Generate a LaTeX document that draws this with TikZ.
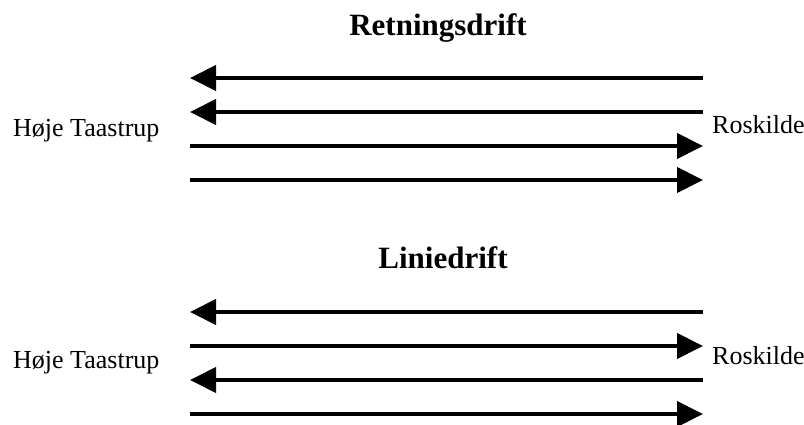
\documentclass[tikz,border=0pt]{standalone}
\usepackage{fontspec}
\setmainfont{Liberation Serif}
\usetikzlibrary{arrows.meta,positioning}
\tikzset{
  track/.style={line width=4pt, -{Triangle[length=26pt,width=25pt]}},
  station/.style={inner sep=0pt, font=\fontsize{26}{30}\selectfont},
  heading/.style={inner sep=0pt, font=\fontsize{31}{36}\selectfont\bfseries},
}

\begin{document}
\begin{tikzpicture}[x=1pt,y=-1pt]
    \useasboundingbox (0,0) rectangle (804,425);

    % Retningsdrift
    \node[heading, anchor=base] (retning) at (438,36) {Retningsdrift};
    \node[station, anchor=base west] (htA) at (13,137) {Høje Taastrup};
    \node[station, anchor=base west] (rosA) at (712,134) {Roskilde};

    \coordinate (a1w) at (190,78);  \coordinate (a1e) at (703,78);
    \coordinate (a2w) at (190,112); \coordinate (a2e) at (703,112);
    \coordinate (a3w) at (190,146); \coordinate (a3e) at (703,146);
    \coordinate (a4w) at (190,180); \coordinate (a4e) at (703,180);

    \draw[track] (a1e) -- (a1w);
    \draw[track] (a2e) -- (a2w);
    \draw[track] (a3w) -- (a3e);
    \draw[track] (a4w) -- (a4e);

    % Liniedrift
    \node[heading, anchor=base] (linie) at (443,269) {Liniedrift};
    \node[station, anchor=base west] (htB) at (13,368) {Høje Taastrup};
    \node[station, anchor=base west] (rosB) at (712,364) {Roskilde};

    \coordinate (b1w) at (190,312); \coordinate (b1e) at (703,312);
    \coordinate (b2w) at (190,346); \coordinate (b2e) at (703,346);
    \coordinate (b3w) at (190,380); \coordinate (b3e) at (703,380);
    \coordinate (b4w) at (190,414); \coordinate (b4e) at (703,414);

    \draw[track] (b1e) -- (b1w);
    \draw[track] (b2w) -- (b2e);
    \draw[track] (b3e) -- (b3w);
    \draw[track] (b4w) -- (b4e);
\end{tikzpicture}
\end{document}
